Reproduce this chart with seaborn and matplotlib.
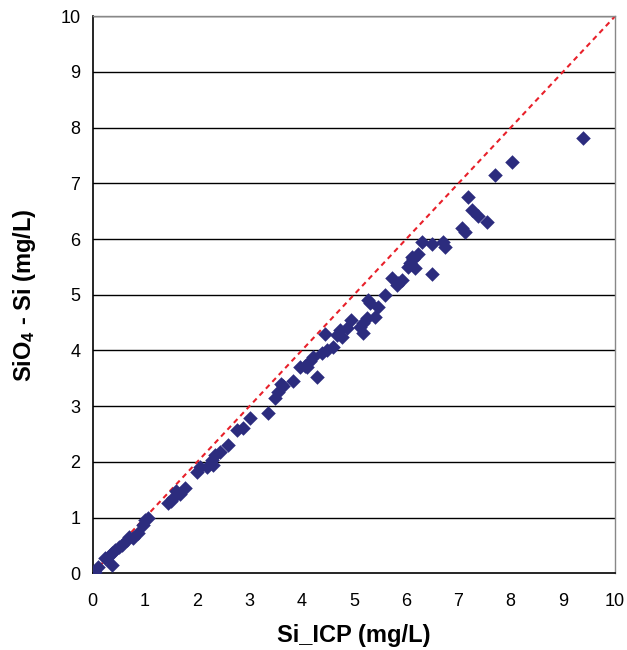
import matplotlib
matplotlib.use("Agg")
import matplotlib.pyplot as plt
import seaborn as sns
import pandas as pd

si_icp = [9.39, 8.03, 7.70, 7.18, 7.26, 7.38, 7.55, 7.07, 7.13, 6.49, 6.71, 6.74,
          6.23, 6.13, 6.07, 6.17, 6.03, 6.49, 5.73, 5.84, 6.11, 5.92, 5.82, 5.59,
          5.27, 5.46, 5.40, 5.25, 5.17, 5.11, 5.17, 4.87, 4.73, 4.67, 4.77, 4.60,
          4.48, 4.39, 4.21, 4.16, 4.06, 3.97, 4.29, 4.10, 3.83, 3.64, 3.54, 3.49,
          3.35, 3.01, 2.87, 2.76, 2.59, 2.43, 2.34, 2.28, 2.30, 2.18, 2.05, 2.00,
          1.76, 1.67, 1.53, 1.44, 1.50, 1.60, 1.05, 0.96, 0.86, 0.77, 0.65, 0.56,
          0.42, 0.36, 0.36, 0.23, 0.10, 0.04, 0.30, 0.70, 0.50, 1.00, 3.60, 5.30,
          6.30, 4.95, 4.45]
sio4_si = [7.81, 7.38, 7.15, 6.75, 6.52, 6.41, 6.30, 6.19, 6.12, 5.92, 5.94, 5.85,
           5.74, 5.65, 5.57, 5.48, 5.49, 5.37, 5.31, 5.21, 5.67, 5.26, 5.17, 4.99,
           4.90, 4.78, 4.60, 4.58, 4.49, 4.42, 4.31, 4.40, 4.36, 4.27, 4.24, 4.06,
           4.00, 3.95, 3.88, 3.82, 3.73, 3.70, 3.52, 3.70, 3.46, 3.37, 3.25, 3.14,
           2.87, 2.78, 2.60, 2.57, 2.30, 2.17, 2.12, 2.03, 1.94, 1.90, 1.90, 1.81,
           1.53, 1.43, 1.35, 1.26, 1.30, 1.48, 0.99, 0.86, 0.72, 0.63, 0.59, 0.50,
           0.41, 0.36, 0.15, 0.27, 0.11, 0.02, 0.30, 0.65, 0.48, 0.95, 3.40, 4.85,
           5.95, 4.55, 4.30]
line_vals = [0, 10]
ticks = list(range(0, 11))

df = pd.DataFrame({"Si_ICP": si_icp, "SiO4_Si": sio4_si})

sns.set_style("white")
plt.rcParams["font.family"] = ["Liberation Sans", "DejaVu Sans"]
plt.rcParams["mathtext.fontset"] = "custom"
plt.rcParams["mathtext.rm"] = "Liberation Sans"
plt.rcParams["mathtext.bf"] = "Liberation Sans:bold"
plt.rcParams["text.color"] = "black"
plt.rcParams["axes.labelcolor"] = "black"
plt.rcParams["xtick.color"] = "black"
plt.rcParams["ytick.color"] = "black"

fig = plt.figure(figsize=(6.27, 6.5), dpi=100)
ax = fig.add_axes([0.148, 0.118, 0.833, 0.857])

for t in ticks[1:]:
    ax.axhline(t, color="black", lw=1.0, zorder=0)

sns.lineplot(x=line_vals, y=line_vals, ax=ax, color="#E8202A", lw=1.5,
             linestyle=(0, (2.5, 2.0)), zorder=2)
sns.scatterplot(data=df, x="Si_ICP", y="SiO4_Si", ax=ax, marker="D", s=55,
                color="#2C2C7E", edgecolor="#2C2C7E", linewidth=0, zorder=3)

ax.set_xlim(0, 10)
ax.set_ylim(0, 10)
ax.set_xticks(ticks)
ax.set_yticks(ticks)
ax.tick_params(axis="both", direction="out", length=5, width=1, colors="black",
               labelsize=13, pad=4)
ax.tick_params(axis="x", pad=9)
for s in ["left", "bottom"]:
    ax.spines[s].set_color("black")
    ax.spines[s].set_linewidth(1.2)
for s in ["top", "right"]:
    ax.spines[s].set_color("#888888")
    ax.spines[s].set_linewidth(1.0)

ax.set_xlabel("Si_ICP (mg/L)", fontsize=17, fontweight="bold", labelpad=10, color="black")
ax.set_ylabel(r"$\mathbf{SiO_4}$ - Si (mg/L)", fontsize=17, fontweight="bold",
              labelpad=16, color="black")

fig.savefig("out.png", dpi=100)
